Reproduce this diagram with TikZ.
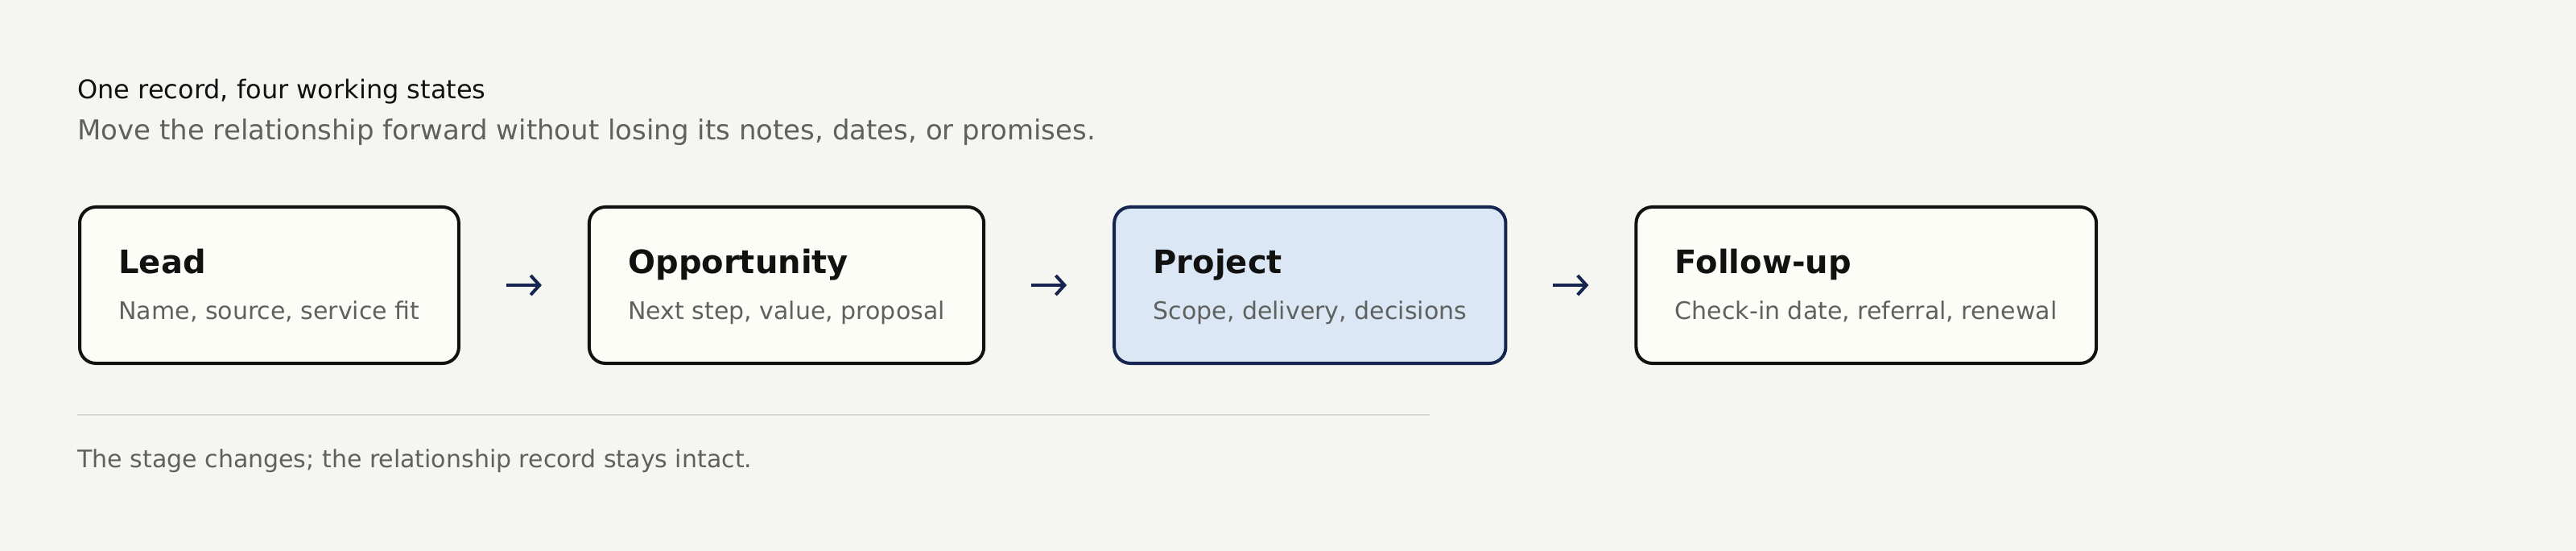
\documentclass[tikz,border=0pt]{standalone}
\usepackage{fontspec}
\setmainfont{DejaVu Sans}
\usetikzlibrary{positioning,arrows.meta}
\definecolor{paper}{HTML}{F5F6F2}
\definecolor{card}{HTML}{FDFDF8}
\definecolor{ink}{HTML}{111111}
\definecolor{muted}{HTML}{5E615E}
\definecolor{navy}{HTML}{16254F}
\definecolor{current}{HTML}{DCE7F5}
\definecolor{hairline}{HTML}{D9D6CF}
\tikzset{
  stagebox/.style = {draw=ink, fill=card, line width=2pt, rounded corners=10pt,
    outer sep=1pt, inner xsep=24.25pt, inner ysep=0pt,
    text height=69.5pt, text depth=27.5pt},
  activebox/.style = {stagebox, draw=navy, fill=current},
  flow/.style = {navy, line width=2pt, -{Straight Barb[length=5.5pt,width=12pt]},
    shorten <=28.5pt, shorten >=28.5pt},
  caption/.style = {anchor=base west, inner sep=0pt}
}
\newcommand{\stagetext}[2]{\vbox{\baselineskip=28.5pt\lineskiplimit=-\maxdimen
  \hbox{\color{ink}\fontsize{20}{24}\bfseries #1}%
  \hbox{\color{muted}\fontsize{15}{18}\selectfont #2}}}

\begin{document}
\begin{tikzpicture}[x=1pt,y=-1pt]
  \useasboundingbox[fill=paper] (0,0) rectangle (1600,342);
  \node[caption, text=ink, font=\fontsize{16}{19}\selectfont] (title) at (48,61.5) {One record, four working states};
  \node[caption, text=muted, font=\fontsize{17}{20}\selectfont] (subtitle) at (48,87) {Move the relationship forward without losing its notes, dates, or promises.};
  \node[stagebox, anchor=north west] (lead) at (48.5,127.5) {\stagetext{Lead}{Name, source, service fit}};
  \node[stagebox, right=79pt of lead] (opportunity) {\stagetext{Opportunity}{Next step, value, proposal}};
  \node[activebox, right=79pt of opportunity] (project) {\stagetext{Project}{Scope, delivery, decisions}};
  \node[stagebox, right=79pt of project] (followup) {\stagetext{Follow-up}{Check-in date, referral, renewal}};
  \draw[flow] (lead) -- (opportunity);
  \draw[flow] (opportunity) -- (project);
  \draw[flow] (project) -- (followup);
  \draw[hairline, line width=1pt] (48,257.3) -- (888,257.3);
  \node[caption, text=muted, font=\fontsize{15}{18}\selectfont] (note) at (48,290) {The stage changes; the relationship record stays intact.};
\end{tikzpicture}
\end{document}
